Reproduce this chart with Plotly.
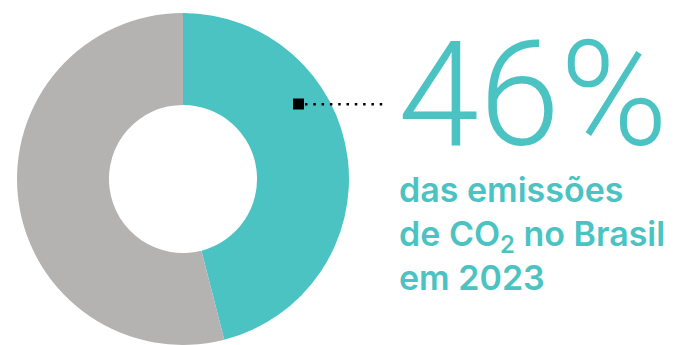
import plotly.graph_objects as go

W, H = 680, 345

# Share of Brazil's 2023 CO2 emissions
labels = ["Participação", "Demais"]
values = [46, 54]
colors = ["#4BC3C3", "#B4B3B2"]

headline = "46%"
caption_lines = ["das emissões", "de CO<sub>2</sub> no Brasil", "em 2023"]

TEAL = "#4BC3C3"

def px_x(x):
    return x / W

def px_y(y):
    return 1 - y / H

fig = go.Figure()

fig.add_trace(go.Pie(
    labels=labels,
    values=values,
    hole=0.446,
    sort=False,
    direction="clockwise",
    rotation=0,
    marker=dict(colors=colors, line=dict(width=0)),
    textinfo="none",
    hoverinfo="label+percent",
    domain=dict(x=[px_x(17), px_x(349)], y=[0, px_y(13)]),
    showlegend=False,
))

# leader: square marker and dotted line to the headline
fig.add_shape(type="rect", xref="paper", yref="paper",
              x0=px_x(293), x1=px_x(304), y0=px_y(109.5), y1=px_y(98.5),
              fillcolor="#000000", line=dict(width=0))
fig.add_shape(type="line", xref="paper", yref="paper",
              x0=px_x(305), x1=px_x(388), y0=px_y(104.2), y1=px_y(104.2),
              line=dict(color="#000000", width=2.5, dash="2.5px,5.8px"))

fig.add_annotation(text=headline, xref="paper", yref="paper",
                   x=px_x(396), y=px_y(95), xanchor="left", yanchor="middle",
                   showarrow=False,
                   font=dict(family="Roboto", size=146, color=TEAL, weight=300))

fig.add_annotation(text="<br>".join(caption_lines), xref="paper", yref="paper",
                   x=px_x(397), y=px_y(233), xanchor="left", yanchor="middle",
                   align="left", showarrow=False,
                   font=dict(family="Inter", size=34, color=TEAL, weight=600))

fig.update_layout(
    width=W, height=H,
    margin=dict(l=0, r=0, t=0, b=0),
    paper_bgcolor="#FFFFFF",
    plot_bgcolor="#FFFFFF",
)

fig.write_html("out.html")
